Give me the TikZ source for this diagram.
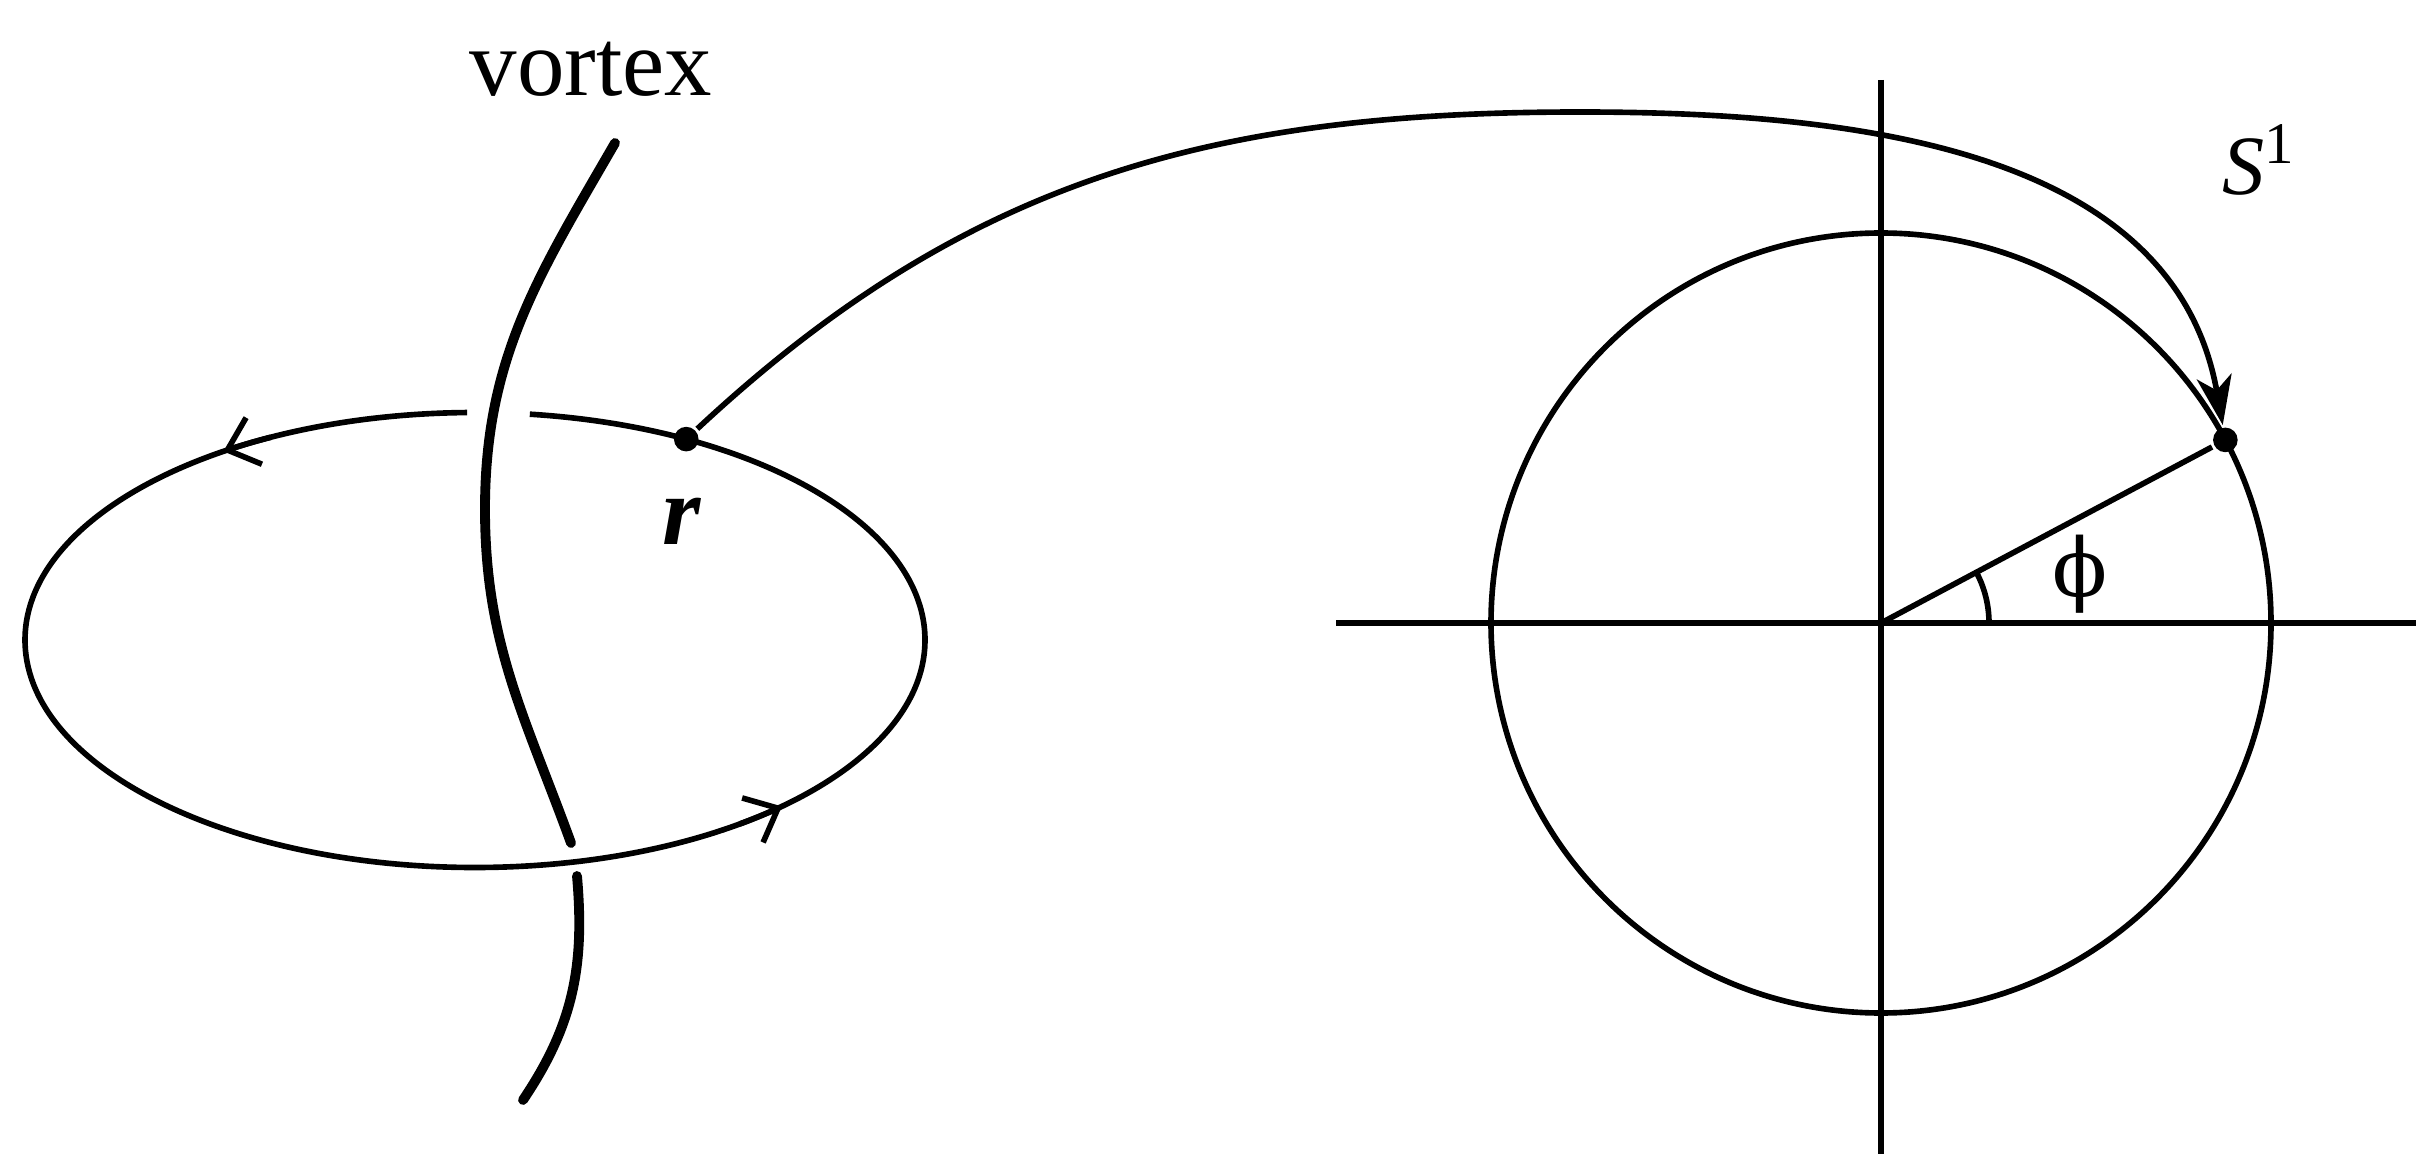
\documentclass[tikz,border=0pt]{standalone}
\usepackage{fontspec}
\setmainfont{Liberation Serif}
\newfontfamily\phifont{DejaVu Serif}
\usetikzlibrary{arrows.meta, positioning, calc}

\begin{document}
\begin{tikzpicture}[
    line width=1.6pt,
    dot/.style={circle, fill, inner sep=0pt, minimum size=7pt},
    flowtip/.style={-{Straight Barb[length=8pt, width=14pt, line width=1.6pt]}},
    maptip/.style={-{Stealth[length=14pt, width=10pt, inset=4pt]}},
    vortexline/.style={line width=2.8pt, line cap=round}
]
    \useasboundingbox (0,0) rectangle (24.16,11.54);

    % loop round the vortex
    \coordinate (loopc) at (4.75,5.14);
    \draw ($(loopc)+(91:4.5 and 2.275)$) coordinate (gapend)
        arc[start angle=91, end angle=443, x radius=4.5, y radius=2.275];
    \draw[flowtip] ($(loopc)+(117:4.5 and 2.275)$)
        arc[start angle=117, end angle=124, x radius=4.5, y radius=2.275];
    \draw[flowtip] ($(loopc)+(306:4.5 and 2.275)$)
        arc[start angle=306, end angle=313, x radius=4.5, y radius=2.275];

    % the vortex line, over the loop at the top, under it at the bottom
    \coordinate (vtop) at (6.15,10.11);
    \coordinate (vmid) at (4.85,6.45);
    \coordinate (vcut) at (5.71,3.11);
    \coordinate (vgo) at (5.77,2.78);
    \coordinate (vbot) at (5.23,0.54);
    \draw[vortexline] (vtop) to[out=240, in=90] (vmid) to[out=-90, in=110] (vcut);
    \draw[vortexline] (vgo) to[out=-85, in=56] (vbot);
    \node[anchor=base] (vortex) at (5.91,10.58) {\fontsize{27}{30}\selectfont vortex};

    \node[dot] (rpt) at ($(loopc)+(62:4.5 and 2.275)$) {};
    \node[anchor=base] (rlab) at (6.82,6.09) {\fontsize{28}{30}\selectfont\bfseries\itshape r};

    % the target circle
    \coordinate (O) at (18.81,5.31);
    \draw (13.36,5.31) -- (24.16,5.31);
    \draw (18.81,10.74) -- (18.81,0);
    \draw (O) circle[radius=3.9];
    \node[dot] (spt) at ($(O)+(28:3.9)$) {};
    \draw (O) -- (spt);
    \draw ($(O)+(1.08,0)$) arc[start angle=0, end angle=28, radius=1.08];
    \node (philab) at (20.80,5.80) {\fontsize{23}{26}\phifont ϕ};
    \node[anchor=base west] (slab) at (22.08,9.59) {\fontsize{24}{28}\selectfont\itshape S\textsuperscript{\upshape 1}};

    % the map
    \coordinate (arcpeak) at (15.8,10.42);
    \draw[maptip] (rpt) to[out=43, in=180] (arcpeak) to[out=0, in=100] (spt);
\end{tikzpicture}
\end{document}
